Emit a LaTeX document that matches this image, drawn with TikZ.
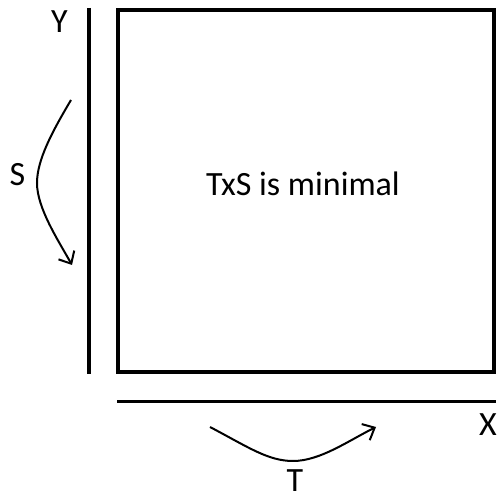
\documentclass[tikz,border=0pt]{standalone}
\usepackage{fontspec}
\setmainfont{Carlito}
\usetikzlibrary{arrows.meta}
\begin{document}
\begin{tikzpicture}[x=0.5pt,y=-0.5pt,
  lbl/.style={font=\fontsize{17pt}{20pt}\selectfont, inner sep=0pt},
  axis/.style={line width=1.75pt},
  box/.style={line width=2pt},
  curvy/.style={line width=1pt,-{Straight Barb[length=5pt,width=9pt,line width=1pt]}}]
\useasboundingbox (0,0) rectangle (499,497);
\draw[box] (118,10.5) rectangle (494,372);
\node[lbl] (txt) at (303,184) {TxS is minimal};
\coordinate (yt) at (89,8);
\coordinate (yb) at (89,374);
\draw[axis] (yt) -- (yb);
\coordinate (xl) at (117,401.7);
\coordinate (xr) at (496,401.7);
\draw[axis] (xl) -- (xr);
\node[lbl] (Y) at (59.5,22) {Y};
\node[lbl] (X) at (488,425) {X};
\node[lbl] (S) at (17.5,175) {S};
\node[lbl] (T) at (295,481) {T};
\coordinate (s0) at (71,100);
\coordinate (s1) at (37,183);
\coordinate (s2) at (72,265);
\draw[curvy] (s0) .. controls (52,132) and (37,160) .. (s1) .. controls (37,208) and (58,240) .. (s2);
\coordinate (t0) at (210,427);
\coordinate (t1) at (293,461);
\coordinate (t2) at (376,427);
\draw[curvy] (t0) .. controls (248,447) and (268,461) .. (t1) .. controls (320,461) and (348,441) .. (t2);
\end{tikzpicture}
\end{document}
